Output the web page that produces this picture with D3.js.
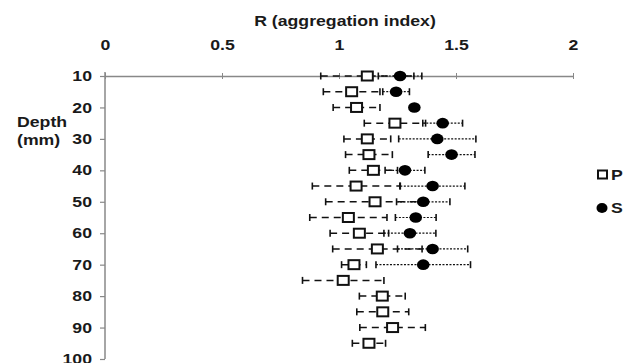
<!DOCTYPE html>
<html>
<head>
<meta charset="utf-8">
<script src="https://cdn.jsdelivr.net/npm/d3@7"></script>
<style>
  body { margin: 0; background: #fff; }
  text { font-family: "Liberation Sans", Arial, sans-serif; font-weight: bold; fill: #1a1a1a; }
</style>
</head>
<body>
<div class="chart"></div>
<script>
// depth rows (mm)
var depthP = [10, 15, 20, 25, 30, 35, 40, 45, 50, 55, 60, 65, 70, 75, 80, 85, 90, 95];
var depthS = [10, 15, 20, 25, 30, 35, 40, 45, 50, 55, 60, 65, 70];

// P series (open squares)
var meanP = [1.121, 1.054, 1.075, 1.239, 1.121, 1.128, 1.147, 1.073, 1.154, 1.040, 1.087, 1.164, 1.064, 1.018, 1.185, 1.187, 1.229, 1.128];
var errP  = [0.199, 0.121, 0.100, 0.131, 0.100, 0.100, 0.103, 0.187, 0.211, 0.165, 0.125, 0.191, 0.053, 0.174, 0.098, 0.111, 0.140, 0.071];

// S series (filled circles)
var meanS = [1.261, 1.244, 1.322, 1.443, 1.420, 1.481, 1.282, 1.400, 1.360, 1.328, 1.303, 1.400, 1.360];
var errS  = [0.093, 0.057, 0.010, 0.085, 0.165, 0.100, 0.085, 0.138, 0.114, 0.087, 0.111, 0.150, 0.202];

var xTicks = [0, 0.5, 1, 1.5, 2];
var yTicks = [10, 20, 30, 40, 50, 60, 70, 80, 90, 100];

var width = 633, height = 363;
var fs = "14.5px", sx = 1.22;   // picture is a bit stretched sideways

var svg = d3.select(".chart").append("svg")
    .attr("width", width)
    .attr("height", height);

var x = d3.scaleLinear().domain([0, 2]).range([105, 573]);
var y = d3.scaleLinear().domain([10, 100]).range([76, 359]);

function label(px, py, str, anchor) {
    return svg.append("text")
        .attr("transform", "translate(" + px + "," + py + ") scale(" + sx + ",1)")
        .attr("text-anchor", anchor || "start")
        .style("font-size", fs)
        .text(str);
}

// axes
var xAxis = svg.append("g")
    .attr("transform", "translate(0," + y(10) + ")")
    .call(d3.axisTop(x).tickValues(xTicks).tickSize(0).tickPadding(26)
        .tickFormat(function (d) { return d; }));
xAxis.select(".domain").attr("stroke", "#888").attr("stroke-width", 1.5);
xAxis.selectAll("text").style("font-size", fs).attr("transform", "scale(" + sx + ",1)");
// small crossing ticks on the x axis
xAxis.selectAll(".tick").append("line")
    .attr("y1", -3).attr("y2", 3)
    .attr("stroke", "#888").attr("stroke-width", 1);

var yAxis = svg.append("g")
    .attr("transform", "translate(" + x(0) + ",0)")
    .call(d3.axisLeft(y).tickValues(yTicks).tickSize(5).tickSizeOuter(0).tickPadding(8));
yAxis.select(".domain").attr("stroke", "#888").attr("stroke-width", 1.5)
    .attr("d", "M0," + (y(10) - 4) + "V" + y(100));
yAxis.selectAll(".tick line").attr("stroke", "#888").attr("stroke-width", 1.2);
yAxis.selectAll("text").style("font-size", fs)
    .attr("x", 0).attr("transform", "translate(-13,0) scale(" + sx + ",1)");

// titles
label(345, 26, "R (aggregation index)", "middle");
label(17, 127, "Depth");
label(17, 145, "(mm)");

// error bars
function errorBars(g, depth, mean, err, dash, lw) {
    var rows = depth.map(function (d, i) { return { d: d, m: mean[i], e: err[i] }; });
    var eb = g.selectAll(null).data(rows).enter().append("g");
    eb.append("line")
        .attr("x1", function (r) { return x(r.m - r.e); })
        .attr("x2", function (r) { return x(r.m + r.e); })
        .attr("y1", function (r) { return y(r.d); })
        .attr("y2", function (r) { return y(r.d); })
        .attr("stroke", "#111").attr("stroke-width", lw)
        .attr("stroke-dasharray", dash);
    [-1, 1].forEach(function (s) {
        eb.append("line")
            .attr("x1", function (r) { return x(r.m + s * r.e); })
            .attr("x2", function (r) { return x(r.m + s * r.e); })
            .attr("y1", function (r) { return y(r.d) - 3.5; })
            .attr("y2", function (r) { return y(r.d) + 3.5; })
            .attr("stroke", "#111").attr("stroke-width", 1.6);
    });
    return rows;
}

var gP = svg.append("g");
var rowsP = errorBars(gP, depthP, meanP, errP, "7,5", 1.5);
var gS = svg.append("g");
var rowsS = errorBars(gS, depthS, meanS, errS, "2,1.5", 1.2);

// markers
svg.append("g").selectAll("rect")
    .data(rowsP).enter().append("rect")
    .attr("x", function (r) { return x(r.m) - 5.5; })
    .attr("y", function (r) { return y(r.d) - 4.5; })
    .attr("width", 11).attr("height", 9)
    .attr("fill", "#fff").attr("stroke", "#111").attr("stroke-width", 2);

svg.append("g").selectAll("ellipse")
    .data(rowsS).enter().append("ellipse")
    .attr("cx", function (r) { return x(r.m); })
    .attr("cy", function (r) { return y(r.d); })
    .attr("rx", 6.3).attr("ry", 5.3)
    .attr("fill", "#000");

// legend
var legend = svg.append("g");
legend.append("rect")
    .attr("x", 598).attr("y", 170.5).attr("width", 9).attr("height", 8)
    .attr("fill", "#fff").attr("stroke", "#111").attr("stroke-width", 2);
label(611, 180, "P");
legend.append("ellipse").attr("cx", 602).attr("cy", 208).attr("rx", 5.5).attr("ry", 5).attr("fill", "#000");
label(611, 213, "S");
</script>
</body>
</html>
